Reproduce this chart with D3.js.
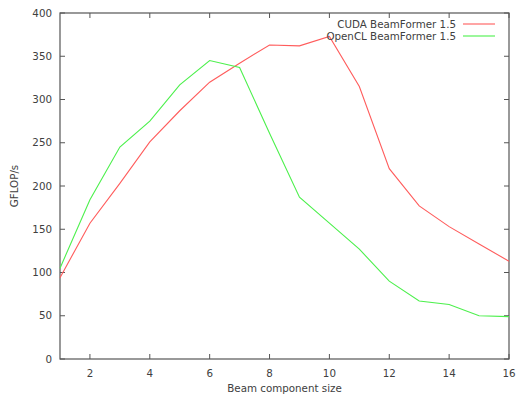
<!DOCTYPE html>
<html>
<head>
<meta charset="utf-8">
<script src="https://cdn.jsdelivr.net/npm/d3@7"></script>
<style>
  body { margin: 0; background: #fff; }
  svg text { font-family: "DejaVu Sans", sans-serif; font-size: 10.3px; fill: #404040; }
</style>
</head>
<body>
<svg id="vis" width="517" height="397"></svg>
<script>
'use strict';

var beamSizes = [1, 2, 3, 4, 5, 6, 7, 8, 9, 10, 11, 12, 13, 14, 15, 16];
var cudaValues = [94, 157, 203, 251, 287, 320, 342, 363, 362, 373, 315, 220, 177, 153, 133, 113];
var openclValues = [105, 184, 245, 275, 317, 345, 337, 261, 187, 157, 127, 90, 67, 63, 50, 49];
var seriesNames = ['CUDA BeamFormer 1.5', 'OpenCL BeamFormer 1.5'];
var xTicks = [2, 4, 6, 8, 10, 12, 14, 16];
var yTicks = [0, 50, 100, 150, 200, 250, 300, 350, 400];

(function () {
    var margin = {top: 13, right: 8, bottom: 38, left: 60};
    var width = 517 - margin.left - margin.right,
        height = 397 - margin.top - margin.bottom;

    var svg = d3.select('#vis');
    var g = svg.append('g').attr('transform', 'translate(' + margin.left + ',' + margin.top + ')');

    var x = d3.scaleLinear().domain([1, 16]).range([0, width]);
    var y = d3.scaleLinear().domain([0, 400]).range([height, 0]);

    var frameColor = '#555';
    var tickLen = 5;

    // ticks (gnuplot style: inward, mirrored)
    xTicks.forEach(function (t) {
        g.append('line').attr('x1', x(t)).attr('x2', x(t)).attr('y1', height).attr('y2', height - tickLen)
            .attr('stroke', frameColor);
        g.append('line').attr('x1', x(t)).attr('x2', x(t)).attr('y1', 0).attr('y2', tickLen)
            .attr('stroke', frameColor);
        g.append('text').attr('x', x(t)).attr('y', height + 18)
            .style('text-anchor', 'middle').text(t);
    });
    yTicks.forEach(function (t) {
        g.append('line').attr('x1', 0).attr('x2', tickLen).attr('y1', y(t)).attr('y2', y(t))
            .attr('stroke', frameColor);
        g.append('line').attr('x1', width).attr('x2', width - tickLen).attr('y1', y(t)).attr('y2', y(t))
            .attr('stroke', frameColor);
        g.append('text').attr('x', -8).attr('y', y(t)).attr('dy', '0.35em')
            .style('text-anchor', 'end').text(t);
    });

    g.append('rect').attr('x', 0).attr('y', 0).attr('width', width).attr('height', height)
        .attr('fill', 'none').attr('stroke', frameColor).attr('stroke-width', 1.2);

    var line = d3.line()
        .x(function (d, i) { return x(beamSizes[i]); })
        .y(function (d) { return y(d); });

    var colors = ['#ff5c5c', '#4cf04c'];
    [cudaValues, openclValues].forEach(function (vals, i) {
        g.append('path').datum(vals).attr('d', line)
            .attr('fill', 'none').attr('stroke', colors[i]).attr('stroke-width', 1.1);
    });

    // legend
    seriesNames.forEach(function (name, i) {
        var ly = 24 + i * 12 - margin.top;
        g.append('text').attr('x', 456 - margin.left).attr('y', ly).attr('dy', '0.35em')
            .style('text-anchor', 'end').text(name);
        g.append('line').attr('x1', 463 - margin.left).attr('x2', 495 - margin.left)
            .attr('y1', ly).attr('y2', ly).attr('stroke', colors[i]).attr('stroke-width', 1.1);
    });

    // axis labels
    svg.append('text')
        .attr('transform', 'translate(' + (margin.left + width / 2) + ',' + 392 + ')')
        .style('text-anchor', 'middle')
        .text('Beam component size');

    svg.append('text')
        .attr('transform', 'translate(18,' + (margin.top + height / 2) + ') rotate(-90)')
        .style('text-anchor', 'middle')
        .text('GFLOP/s');
})();
</script>
</body>
</html>
